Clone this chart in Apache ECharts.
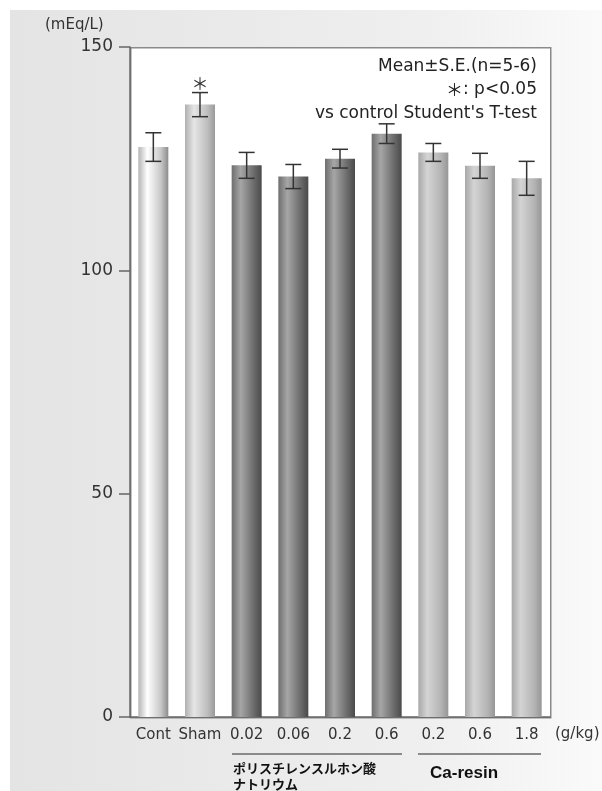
<!DOCTYPE html>
<html>
<head>
<meta charset="utf-8">
<script src="https://cdn.jsdelivr.net/npm/echarts@6/dist/echarts.min.js"></script>
<style>
  html, body { margin: 0; padding: 0; background: #fff; }
  #main { width: 602px; height: 791px; }
</style>
</head>
<body>
<div id="main"></div>
<script>
// categories and values
var categories = ["Cont", "Sham", "0.02", "0.06", "0.2", "0.6", "0.2", "0.6", "1.8"];
var groups = ["cont", "sham", "pss", "pss", "pss", "pss", "ca", "ca", "ca"];
var means = [127.6, 137.1, 123.5, 121.0, 125.0, 130.6, 126.4, 123.4, 120.6];
var errors = [3.2, 2.7, 2.9, 2.7, 2.1, 2.2, 2.0, 2.8, 3.8];
var signif = [false, true, false, false, false, false, false, false, false];
var yTicks = [0, 50, 100, 150];

var chart = echarts.init(document.getElementById("main"));

// cylinder-like gradients for each group
function cyl(edge, hi, mid, dark) {
  return new echarts.graphic.LinearGradient(0, 0, 1, 0, [
    { offset: 0, color: edge },
    { offset: 0.3, color: hi },
    { offset: 0.75, color: mid },
    { offset: 1, color: dark }
  ]);
}
var colors = {
  cont: cyl("#b4b4b4", "#ffffff", "#c8c8c8", "#8c8c8c"),
  sham: cyl("#b0b0b0", "#e6e6e6", "#bdbdbd", "#9a9a9a"),
  pss: cyl("#6e6e6e", "#a6a6a6", "#6a6a6a", "#4a4a4a"),
  ca: cyl("#a8a8a8", "#d4d4d4", "#b4b4b4", "#969696")
};

var barData = means.map(function (v, i) {
  return { value: v, itemStyle: { color: colors[groups[i]] } };
});
var errData = means.map(function (v, i) {
  return [i, v - errors[i], v + errors[i], signif[i] ? 1 : 0];
});

var font = "DejaVu Sans";

var option = {
  backgroundColor: "#fff",
  animation: false,
  graphic: [
    {
      type: "rect", z: -10, left: 10, top: 10,
      shape: { width: 592, height: 781 },
      style: {
        fill: new echarts.graphic.LinearGradient(0, 0, 1, 0, [
          { offset: 0, color: "#e4e4e4" },
          { offset: 0.7, color: "#efefef" },
          { offset: 1, color: "#fafafa" }
        ])
      }
    },
    {
      type: "rect", z: -5, left: 130, top: 47,
      shape: { width: 420, height: 670 },
      style: { fill: "#fff", stroke: "#8a8a8a", lineWidth: 1.5 }
    },
    { type: "text", left: 45, top: 18, style: { text: "(mEq/L)", font: "15px " + font, fill: "#333" } },
    { type: "text", right: 65, top: 58, style: { text: "Mean±S.E.(n=5-6)", font: "17px " + font, fill: "#222", align: "right" } },
    {
      type: "text", right: 65, top: 81,
      style: {
        text: "{s|＊}: p<0.05", font: "17px " + font, fill: "#222", align: "right",
        rich: { s: { fontFamily: "Noto Sans CJK JP", fontSize: 17, color: "#222" } }
      }
    },
    { type: "text", right: 65, top: 105, style: { text: "vs control Student's T-test", font: "17px " + font, fill: "#222", align: "right" } },
    { type: "text", left: 555, top: 727, style: { text: "(g/kg)", font: "15px " + font, fill: "#333" } },
    { type: "line", shape: { x1: 232, y1: 754, x2: 402, y2: 754 }, style: { stroke: "#8a8a8a", lineWidth: 2 } },
    { type: "line", shape: { x1: 418, y1: 754, x2: 541, y2: 754 }, style: { stroke: "#8a8a8a", lineWidth: 2 } },
    { type: "text", left: 233, top: 760, style: { text: "ポリスチレンスルホン酸\nナトリウム", font: "bold 13px 'Noto Sans CJK JP'", fill: "#111", lineHeight: 16 } },
    { type: "text", left: 430, top: 765, style: { text: "Ca-resin", font: "bold 17px 'Liberation Sans'", fill: "#111" } }
  ],
  grid: { left: 130, right: 52, top: 47, bottom: 74 },
  xAxis: {
    type: "category",
    data: categories,
    axisLine: { show: true, lineStyle: { color: "#666", width: 1.5 } },
    axisTick: { show: false },
    axisLabel: { color: "#333", fontSize: 15, fontFamily: font, margin: 11, interval: 0 }
  },
  yAxis: {
    type: "value",
    min: 0,
    max: 150,
    interval: 50,
    axisLine: { show: true, lineStyle: { color: "#666", width: 1.5 } },
    axisTick: { show: true, length: 11, lineStyle: { color: "#666", width: 1.5 } },
    axisLabel: {
      color: "#333", fontSize: 17, fontFamily: font, margin: 17,
      formatter: function (v) { return yTicks.indexOf(v) >= 0 ? String(v) : ""; }
    },
    splitLine: { show: false }
  },
  series: [
    {
      type: "bar",
      barWidth: 30,
      data: barData
    },
    {
      type: "custom",
      z: 5,
      data: errData,
      renderItem: function (params, api) {
        var x = api.value(0);
        var lo = api.coord([x, api.value(1)]);
        var hi = api.coord([x, api.value(2)]);
        var w = 8;
        var style = { stroke: "#333", lineWidth: 1.5, fill: null };
        var children = [
          { type: "line", shape: { x1: hi[0], y1: hi[1], x2: lo[0], y2: lo[1] }, style: style },
          { type: "line", shape: { x1: hi[0] - w, y1: hi[1], x2: hi[0] + w, y2: hi[1] }, style: style },
          { type: "line", shape: { x1: lo[0] - w, y1: lo[1], x2: lo[0] + w, y2: lo[1] }, style: style }
        ];
        if (api.value(3)) {
          children.push({
            type: "text",
            style: { text: "＊", x: hi[0], y: hi[1] - 1, align: "center", verticalAlign: "bottom", font: "17px 'Noto Sans CJK JP'", fill: "#333" }
          });
        }
        return { type: "group", children: children };
      }
    }
  ]
};

chart.setOption(option);
</script>
</body>
</html>
